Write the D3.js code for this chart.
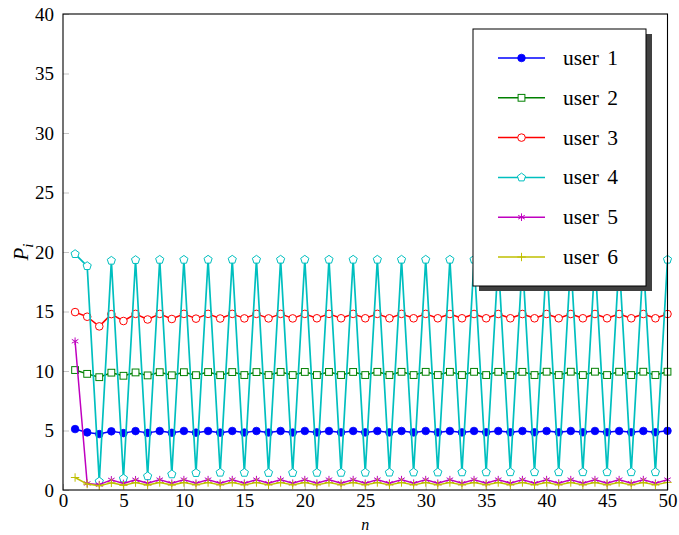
<!DOCTYPE html>
<html>
<head>
<meta charset="utf-8">
<script src="https://cdn.jsdelivr.net/npm/d3@7"></script>
<style>
  body { margin: 0; background: #fff; }
</style>
</head>
<body>
<svg id="chart" width="679" height="535"></svg>
<script>
const n = d3.range(1, 51);
const xTicks = [0, 5, 10, 15, 20, 25, 30, 35, 40, 45, 50];
const yTicks = [0, 5, 10, 15, 20, 25, 30, 35, 40];
const seriesNames = ["user 1", "user 2", "user 3", "user 4", "user 5", "user 6"];

const user1 = [5.12,4.84,4.70,4.93,4.78,4.95,4.80,4.96,4.81,4.96,
               4.82,4.96,4.82,4.96,4.83,4.96,4.83,4.96,4.83,4.96,
               4.84,4.96,4.84,4.96,4.84,4.96,4.84,4.96,4.84,4.96,
               4.84,4.96,4.84,4.96,4.85,4.96,4.85,4.96,4.85,4.96,
               4.85,4.96,4.85,4.96,4.85,4.96,4.85,4.96,4.85,4.97];
const user2 = [10.08,9.76,9.48,9.86,9.60,9.88,9.63,9.90,9.64,9.90,
               9.65,9.91,9.65,9.91,9.66,9.91,9.66,9.92,9.66,9.92,
               9.66,9.92,9.66,9.92,9.66,9.93,9.66,9.93,9.66,9.93,
               9.66,9.93,9.66,9.93,9.66,9.93,9.66,9.93,9.66,9.94,
               9.66,9.94,9.66,9.94,9.66,9.94,9.66,9.94,9.66,9.94];
const user3 = [14.95,14.56,13.75,14.78,14.20,14.80,14.33,14.80,14.37,14.80,
               14.40,14.80,14.41,14.80,14.42,14.80,14.42,14.80,14.42,14.80,
               14.43,14.80,14.43,14.80,14.43,14.80,14.43,14.80,14.43,14.80,
               14.43,14.79,14.43,14.79,14.43,14.79,14.43,14.79,14.43,14.79,
               14.43,14.79,14.43,14.79,14.43,14.79,14.43,14.79,14.43,14.79];
const user4 = [19.83,18.82,0.72,19.27,0.97,19.33,1.16,19.35,1.32,19.35,
               1.43,19.36,1.46,19.36,1.45,19.36,1.44,19.36,1.44,19.36,
               1.45,19.36,1.45,19.36,1.46,19.36,1.47,19.36,1.48,19.36,
               1.48,19.36,1.49,19.36,1.49,19.36,1.50,19.36,1.50,19.36,
               1.50,19.36,1.50,19.36,1.50,19.36,1.50,19.36,1.50,19.36];
const user5 = [12.50,0.55,0.45,0.85,0.55,0.86,0.56,0.87,0.57,0.87,
               0.57,0.87,0.57,0.87,0.57,0.87,0.57,0.87,0.57,0.87,
               0.57,0.87,0.57,0.87,0.57,0.87,0.57,0.87,0.57,0.87,
               0.57,0.87,0.57,0.87,0.57,0.87,0.57,0.87,0.57,0.87,
               0.57,0.87,0.57,0.87,0.57,0.87,0.57,0.87,0.57,0.87];
const user6 = [1.05,0.50,0.36,0.60,0.40,0.62,0.42,0.63,0.42,0.63,
               0.43,0.63,0.43,0.63,0.43,0.63,0.43,0.63,0.43,0.63,
               0.43,0.63,0.43,0.63,0.43,0.63,0.43,0.63,0.43,0.63,
               0.43,0.63,0.43,0.63,0.43,0.63,0.43,0.63,0.43,0.63,
               0.43,0.63,0.43,0.63,0.43,0.63,0.43,0.63,0.43,0.64];

const allSeries = [user1, user2, user3, user4, user5, user6];
const colors = ["#0000ff", "#008000", "#ff0000", "#00bfbf", "#bf00bf", "#bfbf00"];
const markers = ["circleFilled", "square", "circle", "pentagon", "asterisk", "plus"];
const FONT = "'Liberation Serif', 'DejaVu Serif', 'Times New Roman', serif";

const svg = d3.select("#chart");
const L = 63, R = 667.5, T = 14, B = 490;
const x = d3.scaleLinear().domain([0, 50]).range([L, R]);
const y = d3.scaleLinear().domain([0, 40]).range([B, T]);

// ticks (inside, grey)
const xAxis = d3.axisBottom(x).tickValues(xTicks).tickSize(-6).tickPadding(3).tickFormat(d3.format("d"));
const yAxis = d3.axisLeft(y).tickValues(yTicks).tickSize(-6).tickPadding(9).tickFormat(d3.format("d"));
const gx = svg.append("g").attr("transform", `translate(0,${B})`).call(xAxis);
const gy = svg.append("g").attr("transform", `translate(${L},0)`).call(yAxis);
[gx, gy].forEach(g => {
  g.attr("font-family", null).attr("font-size", null);
  g.select(".domain").remove();
  g.selectAll(".tick line").attr("stroke", "#c4c4c4").attr("stroke-width", 1);
  g.selectAll(".tick text").attr("fill", "#000").style("font-family", FONT).style("font-size", "19px");
});
gx.selectAll(".tick text").attr("y", 17).attr("dy", null);
gy.selectAll(".tick text").attr("dy", "0.34em");

// series
function drawMarker(g, type, color, cx, cy) {
  if (type === "circleFilled") {
    g.append("circle").attr("cx", cx).attr("cy", cy).attr("r", 3.8).attr("fill", color).attr("stroke", color).attr("stroke-width", 0.8);
  } else if (type === "circle") {
    g.append("circle").attr("cx", cx).attr("cy", cy).attr("r", 3.8).attr("fill", "#fff").attr("stroke", color).attr("stroke-width", 1);
  } else if (type === "square") {
    g.append("rect").attr("x", cx - 3.4).attr("y", cy - 3.4).attr("width", 6.8).attr("height", 6.8).attr("fill", "#fff").attr("stroke", color).attr("stroke-width", 1);
  } else if (type === "pentagon") {
    const r = 4.3;
    const pts = d3.range(5).map(k => {
      const a = -Math.PI / 2 + k * 2 * Math.PI / 5;
      return [cx + r * Math.cos(a), cy + r * Math.sin(a)];
    });
    g.append("polygon").attr("points", pts.map(p => p.join(",")).join(" ")).attr("fill", "#fff").attr("stroke", color).attr("stroke-width", 1);
  } else if (type === "asterisk") {
    const r = 3.8;
    for (let k = 0; k < 3; k++) {
      const a = Math.PI / 2 + k * Math.PI / 3;
      g.append("line").attr("x1", cx - r * Math.cos(a)).attr("y1", cy - r * Math.sin(a))
        .attr("x2", cx + r * Math.cos(a)).attr("y2", cy + r * Math.sin(a))
        .attr("stroke", color).attr("stroke-width", 1);
    }
  } else if (type === "plus") {
    const r = 4.2;
    g.append("line").attr("x1", cx - r).attr("y1", cy).attr("x2", cx + r).attr("y2", cy).attr("stroke", color).attr("stroke-width", 1);
    g.append("line").attr("x1", cx).attr("y1", cy - r).attr("x2", cx).attr("y2", cy + r).attr("stroke", color).attr("stroke-width", 1);
  }
}

const line = d3.line().x((d, i) => x(n[i])).y(d => y(d));
allSeries.forEach((vals, s) => {
  const g = svg.append("g");
  g.append("path").datum(vals).attr("d", line).attr("fill", "none")
    .attr("stroke", colors[s]).attr("stroke-width", s === 3 ? 1.7 : 1.5).attr("stroke-linejoin", "round");
  vals.forEach((v, i) => drawMarker(g, markers[s], colors[s], x(n[i]), y(v)));
});

// frame
svg.append("rect").attr("x", L).attr("y", T).attr("width", R - L).attr("height", B - T)
  .attr("fill", "none").attr("stroke", "#000").attr("stroke-width", 1.1);

// axis labels
svg.append("text").attr("x", (L + R) / 2).attr("y", 530).attr("text-anchor", "middle")
  .style("font-family", FONT).style("font-size", "16px").style("font-style", "italic").text("n");
const yl = svg.append("text").attr("transform", "translate(28,252) rotate(-90)").attr("text-anchor", "middle")
  .style("font-family", FONT).style("font-size", "21px").style("font-style", "italic");
yl.append("tspan").text("P");
yl.append("tspan").attr("dy", 5).style("font-size", "15px").text("i");

// legend
const lg = { x: 473, y: 29, w: 173, h: 257 };
svg.append("rect").attr("x", lg.x + 6).attr("y", lg.y + 5).attr("width", lg.w).attr("height", lg.h).attr("fill", "#404040");
svg.append("rect").attr("x", lg.x).attr("y", lg.y).attr("width", lg.w).attr("height", lg.h).attr("fill", "#fff").attr("stroke", "#000").attr("stroke-width", 1);
seriesNames.forEach((name, s) => {
  const ry = 58 + s * 39.8;
  const g = svg.append("g");
  g.append("line").attr("x1", 498).attr("x2", 545).attr("y1", ry).attr("y2", ry).attr("stroke", colors[s]).attr("stroke-width", 1.5);
  drawMarker(g, markers[s], colors[s], 521.5, ry);
  g.append("text").attr("x", 563).attr("y", ry + 7).style("font-family", FONT)
    .style("font-size", "21.5px").style("word-spacing", "3px").text(name);
});
</script>
</body>
</html>
